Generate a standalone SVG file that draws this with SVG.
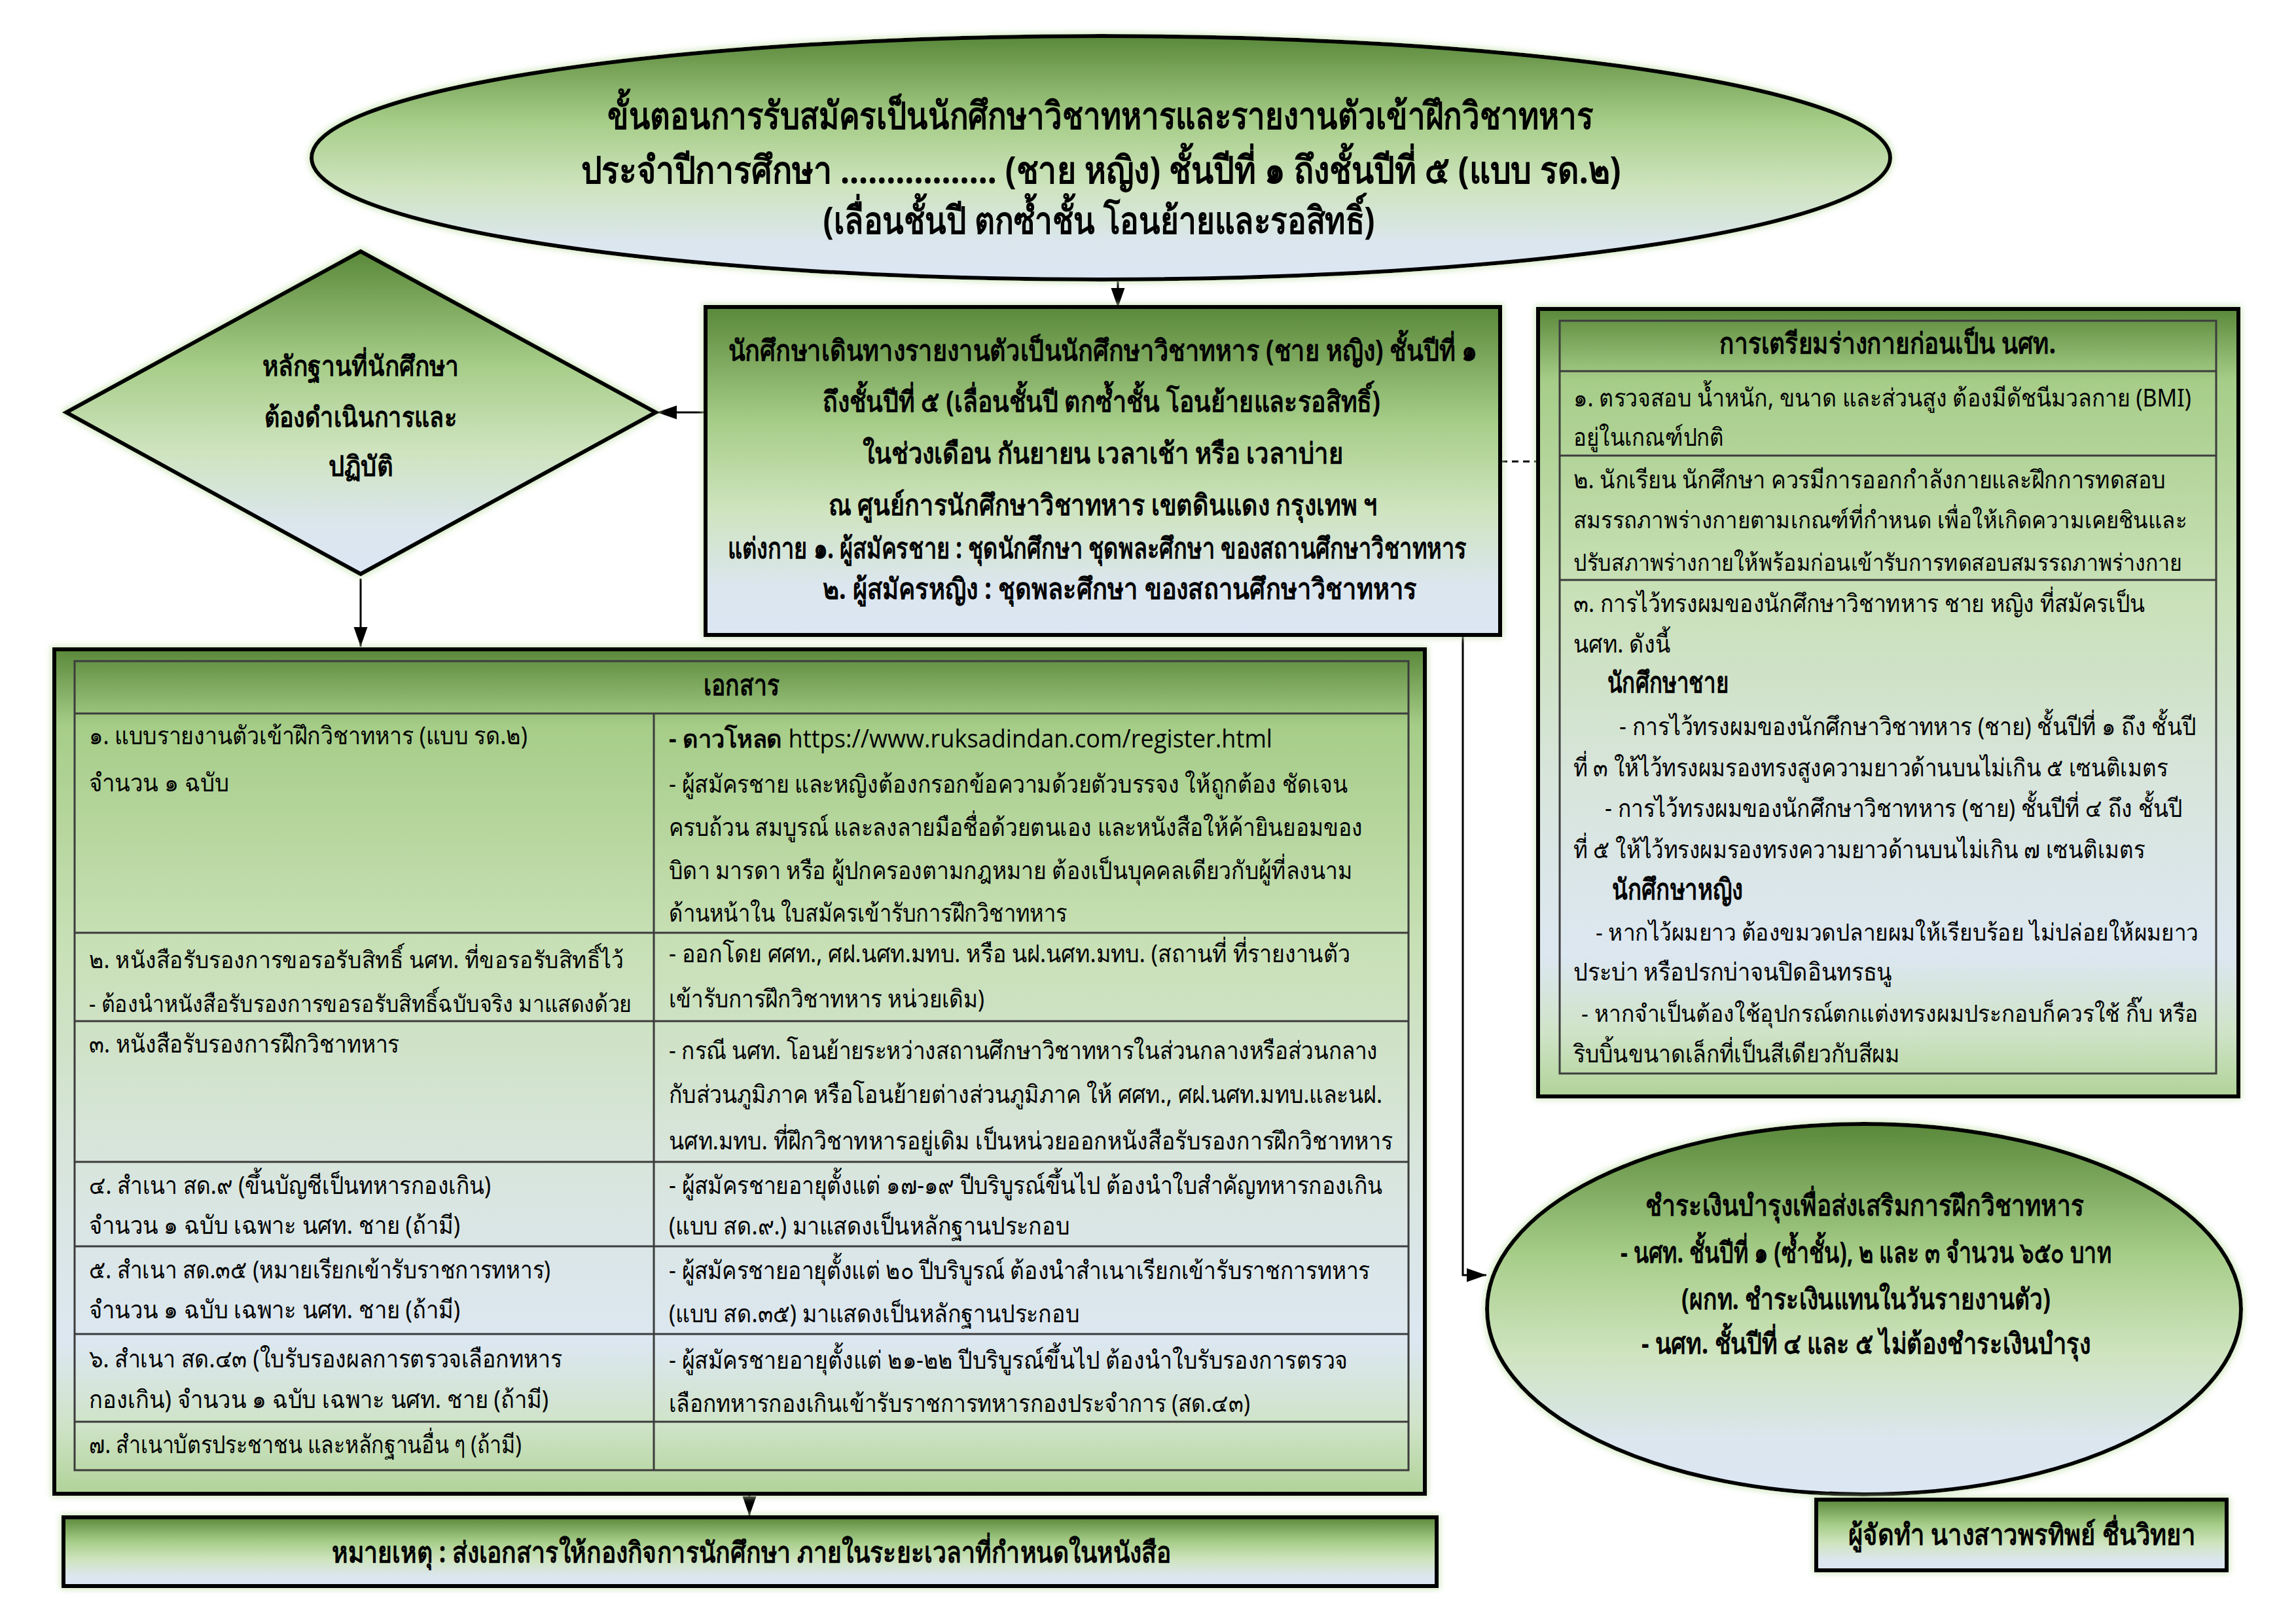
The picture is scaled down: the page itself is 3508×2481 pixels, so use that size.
<svg xmlns="http://www.w3.org/2000/svg" width="3508" height="2481" viewBox="0 0 3508 2481">
<defs>
<linearGradient id="gStd" x1="0" y1="0" x2="0" y2="1">
<stop offset="0" stop-color="#5a883a"/>
<stop offset="0.35" stop-color="#a6cd88"/>
<stop offset="0.62" stop-color="#cfe4bf"/>
<stop offset="0.85" stop-color="#dbe6ee"/>
<stop offset="1" stop-color="#dce6f4"/>
</linearGradient>
<linearGradient id="gTall" x1="0" y1="0" x2="0" y2="1">
<stop offset="0" stop-color="#5a883a"/>
<stop offset="0.09" stop-color="#a6cd88"/>
<stop offset="0.35" stop-color="#c8e0b6"/>
<stop offset="0.6" stop-color="#d8e5dc"/>
<stop offset="0.82" stop-color="#dce7f1"/>
<stop offset="0.92" stop-color="#cfe3c7"/>
<stop offset="1" stop-color="#b0d398"/>
</linearGradient>
<filter id="glow" x="-10%" y="-10%" width="120%" height="120%">
<feMorphology in="SourceAlpha" operator="dilate" radius="2" result="d"/>
<feGaussianBlur in="d" stdDeviation="5" result="b"/>
<feFlood flood-color="#c3e0ab" flood-opacity="0.75"/>
<feComposite in2="b" operator="in" result="g"/>
<feMerge><feMergeNode in="g"/><feMergeNode in="SourceGraphic"/></feMerge>
</filter>
<marker id="ahb" viewBox="0 0 10 10" refX="10" refY="5" markerWidth="30" markerHeight="30" markerUnits="userSpaceOnUse" orient="auto">
<path d="M0,1.5 L10,5 L0,8.5 z" fill="#000"/>
</marker>
</defs>
<style>
.shape{stroke:#000;stroke-width:6;filter:url(#glow)}
.std{fill:url(#gStd)}
.tall{fill:url(#gTall)}
.grid{fill:none;stroke:#3c3c3c;stroke-width:3}
.conn{fill:none;stroke:#000;stroke-width:3}
.dash{fill:none;stroke:#000;stroke-width:3;stroke-dasharray:10 7}
text{font-family:'Noto Sans','DejaVu Sans',sans-serif;fill:#000}
.b{font-weight:bold;font-size:44px}
.d{font-weight:bold;font-size:42px}
.ttl{font-weight:bold;font-size:58px;text-anchor:middle}
.c{text-anchor:middle}
.r{font-size:38px}
.s{font-size:36px}
</style>
<rect width="3508" height="2481" fill="#fff"/>

<g id="connectors">
<line class="conn" x1="1708" y1="430" x2="1708" y2="470" marker-end="url(#ahb)"/>
<line class="conn" x1="1078" y1="630" x2="1004" y2="630" marker-end="url(#ahb)"/>
<line class="conn" x1="551" y1="884" x2="551" y2="988" marker-end="url(#ahb)"/>
<polyline class="conn" points="2235,972 2235,1948 2271,1948" marker-end="url(#ahb)"/>
<line class="conn" x1="1145" y1="2284" x2="1145" y2="2316" marker-end="url(#ahb)"/>
<line class="dash" x1="2293" y1="705" x2="2349" y2="705"/>
</g>

<g id="title">
<ellipse class="shape std" cx="1682" cy="241" rx="1206" ry="186"/>
<text class="ttl" x="1681" y="197" textLength="1506" lengthAdjust="spacingAndGlyphs">ขั้นตอนการรับสมัครเป็นนักศึกษาวิชาทหารและรายงานตัวเข้าฝึกวิชาทหาร</text>
<text class="ttl" x="1682" y="280" textLength="1589" lengthAdjust="spacingAndGlyphs">ประจำปีการศึกษา ................. (ชาย หญิง) ชั้นปีที่ ๑ ถึงชั้นปีที่ ๕ (แบบ รด.๒)</text>
<text class="ttl" x="1679" y="357" textLength="843" lengthAdjust="spacingAndGlyphs">(เลื่อนชั้นปี ตกซ้ำชั้น โอนย้ายและรอสิทธิ์)</text>
</g>

<g id="evidence">
<polygon class="shape std" points="551,384 1002,630 551,877 101,630"/>
<text class="d c" x="551" y="574" textLength="301" lengthAdjust="spacingAndGlyphs">หลักฐานที่นักศึกษา</text>
<text class="d c" x="551" y="652" textLength="295" lengthAdjust="spacingAndGlyphs">ต้องดำเนินการและ</text>
<text class="d c" x="551" y="727" textLength="99" lengthAdjust="spacingAndGlyphs">ปฏิบัติ</text>
</g>

<g id="report">
<rect class="shape std" x="1078" y="469" width="1214" height="501"/>
<text class="b c" x="1685" y="551" textLength="1145" lengthAdjust="spacingAndGlyphs">นักศึกษาเดินทางรายงานตัวเป็นนักศึกษาวิชาทหาร (ชาย หญิง) ชั้นปีที่ ๑</text>
<text class="b c" x="1683" y="629" textLength="852" lengthAdjust="spacingAndGlyphs">ถึงชั้นปีที่ ๕ (เลื่อนชั้นปี ตกซ้ำชั้น โอนย้ายและรอสิทธิ์)</text>
<text class="b c" x="1685" y="708" textLength="735" lengthAdjust="spacingAndGlyphs">ในช่วงเดือน กันยายน  เวลาเช้า หรือ เวลาบ่าย</text>
<text class="b c" x="1685" y="787" textLength="839" lengthAdjust="spacingAndGlyphs">ณ ศูนย์การนักศึกษาวิชาทหาร เขตดินแดง กรุงเทพ ฯ</text>
<text class="b" x="1112" y="853" textLength="1129" lengthAdjust="spacingAndGlyphs">แต่งกาย  ๑. ผู้สมัครชาย : ชุดนักศึกษา ชุดพละศึกษา ของสถานศึกษาวิชาทหาร</text>
<text class="b" x="1257" y="915" textLength="908" lengthAdjust="spacingAndGlyphs">๒. ผู้สมัครหญิง : ชุดพละศึกษา ของสถานศึกษาวิชาทหาร</text>
</g>

<g id="physical">
<rect class="shape tall" x="2350" y="472" width="1070" height="1203"/>
<rect class="grid" x="2383" y="490" width="1003" height="1150"/>
<line class="grid" x1="2383" y1="567" x2="3386" y2="567"/>
<line class="grid" x1="2383" y1="696" x2="3386" y2="696"/>
<line class="grid" x1="2383" y1="886" x2="3386" y2="886"/>
<text class="b c" x="2884" y="540" textLength="514" lengthAdjust="spacingAndGlyphs">การเตรียมร่างกายก่อนเป็น นศท.</text>
<text class="r" x="2404" y="621" textLength="944" lengthAdjust="spacingAndGlyphs">๑. ตรวจสอบ น้ำหนัก, ขนาด และส่วนสูง ต้องมีดัชนีมวลกาย (BMI)</text>
<text class="r" x="2404" y="681" textLength="230" lengthAdjust="spacingAndGlyphs">อยู่ในเกณฑ์ปกติ</text>
<text class="r" x="2404" y="746" textLength="905" lengthAdjust="spacingAndGlyphs">๒. นักเรียน นักศึกษา ควรมีการออกกำลังกายและฝึกการทดสอบ</text>
<text class="s" x="2404" y="807" textLength="937" lengthAdjust="spacingAndGlyphs">สมรรถภาพร่างกายตามเกณฑ์ที่กำหนด เพื่อให้เกิดความเคยชินและ</text>
<text class="s" x="2404" y="872" textLength="930" lengthAdjust="spacingAndGlyphs">ปรับสภาพร่างกายให้พร้อมก่อนเข้ารับการทดสอบสมรรถภาพร่างกาย</text>
<text class="r" x="2404" y="935" textLength="873" lengthAdjust="spacingAndGlyphs">๓. การไว้ทรงผมของนักศึกษาวิชาทหาร ชาย หญิง ที่สมัครเป็น</text>
<text class="r" x="2404" y="997" textLength="148" lengthAdjust="spacingAndGlyphs">นศท. ดังนี้</text>
<text class="b" x="2456" y="1058" textLength="185" lengthAdjust="spacingAndGlyphs">นักศึกษาชาย</text>
<text class="r" x="2474" y="1123" textLength="881" lengthAdjust="spacingAndGlyphs">- การไว้ทรงผมของนักศึกษาวิชาทหาร (ชาย) ชั้นปีที่ ๑ ถึง ชั้นปี</text>
<text class="r" x="2404" y="1186" textLength="908" lengthAdjust="spacingAndGlyphs">ที่ ๓ ให้ไว้ทรงผมรองทรงสูงความยาวด้านบนไม่เกิน ๕ เซนติเมตร</text>
<text class="r" x="2452" y="1248" textLength="882" lengthAdjust="spacingAndGlyphs">- การไว้ทรงผมของนักศึกษาวิชาทหาร (ชาย) ชั้นปีที่ ๔ ถึง ชั้นปี</text>
<text class="r" x="2404" y="1311" textLength="873" lengthAdjust="spacingAndGlyphs">ที่ ๕ ให้ไว้ทรงผมรองทรงความยาวด้านบนไม่เกิน ๗ เซนติเมตร</text>
<text class="b" x="2463" y="1374" textLength="200" lengthAdjust="spacingAndGlyphs">นักศึกษาหญิง</text>
<text class="s" x="2438" y="1437" textLength="921" lengthAdjust="spacingAndGlyphs">- หากไว้ผมยาว ต้องขมวดปลายผมให้เรียบร้อย ไม่ปล่อยให้ผมยาว</text>
<text class="r" x="2404" y="1498" textLength="487" lengthAdjust="spacingAndGlyphs">ประบ่า หรือปรกบ่าจนปิดอินทรธนู</text>
<text class="s" x="2416" y="1561" textLength="943" lengthAdjust="spacingAndGlyphs">- หากจำเป็นต้องใช้อุปกรณ์ตกแต่งทรงผมประกอบก็ควรใช้ กิ๊บ หรือ</text>
<text class="r" x="2404" y="1623" textLength="498" lengthAdjust="spacingAndGlyphs">ริบบิ้นขนาดเล็กที่เป็นสีเดียวกับสีผม</text>
</g>

<g id="documents">
<rect class="shape tall" x="83" y="992" width="2094" height="1290"/>
<rect class="grid" x="114" y="1010" width="2038" height="1236"/>
<line class="grid" x1="114" y1="1090" x2="2152" y2="1090"/>
<line class="grid" x1="114" y1="1425" x2="2152" y2="1425"/>
<line class="grid" x1="114" y1="1560" x2="2152" y2="1560"/>
<line class="grid" x1="114" y1="1775" x2="2152" y2="1775"/>
<line class="grid" x1="114" y1="1904" x2="2152" y2="1904"/>
<line class="grid" x1="114" y1="2038" x2="2152" y2="2038"/>
<line class="grid" x1="114" y1="2172" x2="2152" y2="2172"/>
<line class="grid" x1="999" y1="1090" x2="999" y2="2246"/>
<text class="b c" x="1133" y="1062" textLength="116" lengthAdjust="spacingAndGlyphs">เอกสาร</text>
<text class="r" x="136" y="1137" textLength="670" lengthAdjust="spacingAndGlyphs">๑. แบบรายงานตัวเข้าฝึกวิชาทหาร (แบบ รด.๒)</text>
<text class="r" x="136" y="1209" textLength="214" lengthAdjust="spacingAndGlyphs">จำนวน ๑ ฉบับ</text>
<text class="s" x="136" y="1479" textLength="817" lengthAdjust="spacingAndGlyphs">๒. หนังสือรับรองการขอรอรับสิทธิ์ นศท. ที่ขอรอรับสิทธิ์ไว้</text>
<text class="s" x="136" y="1546" textLength="829" lengthAdjust="spacingAndGlyphs">-  ต้องนำหนังสือรับรองการขอรอรับสิทธิ์ฉบับจริง มาแสดงด้วย</text>
<text class="r" x="136" y="1608" textLength="474" lengthAdjust="spacingAndGlyphs">๓. หนังสือรับรองการฝึกวิชาทหาร</text>
<text class="r" x="136" y="1824" textLength="614" lengthAdjust="spacingAndGlyphs">๔. สำเนา สด.๙ (ขึ้นบัญชีเป็นทหารกองเกิน)</text>
<text class="r" x="136" y="1885" textLength="567" lengthAdjust="spacingAndGlyphs">จำนวน ๑ ฉบับ เฉพาะ นศท. ชาย (ถ้ามี)</text>
<text class="r" x="136" y="1953" textLength="705" lengthAdjust="spacingAndGlyphs">๕. สำเนา สด.๓๕ (หมายเรียกเข้ารับราชการทหาร)</text>
<text class="r" x="136" y="2014" textLength="567" lengthAdjust="spacingAndGlyphs">จำนวน ๑ ฉบับ เฉพาะ นศท. ชาย (ถ้ามี)</text>
<text class="r" x="136" y="2089" textLength="723" lengthAdjust="spacingAndGlyphs">๖. สำเนา สด.๔๓ (ใบรับรองผลการตรวจเลือกทหาร</text>
<text class="r" x="136" y="2151" textLength="702" lengthAdjust="spacingAndGlyphs">กองเกิน) จำนวน ๑ ฉบับ เฉพาะ นศท. ชาย (ถ้ามี)</text>
<text class="r" x="136" y="2220" textLength="661" lengthAdjust="spacingAndGlyphs">๗. สำเนาบัตรประชาชน และหลักฐานอื่น ๆ (ถ้ามี)</text>
<text class="r" x="1022" y="1142" textLength="922" lengthAdjust="spacingAndGlyphs"><tspan font-weight="bold">- ดาวโหลด </tspan><tspan font-family="'Open Sans','Liberation Sans',sans-serif">https://www.ruksadindan.com/register.html</tspan></text>
<text class="r" x="1022" y="1211" textLength="1037" lengthAdjust="spacingAndGlyphs">-  ผู้สมัครชาย และหญิงต้องกรอกข้อความด้วยตัวบรรจง ให้ถูกต้อง ชัดเจน</text>
<text class="r" x="1022" y="1277" textLength="1060" lengthAdjust="spacingAndGlyphs">ครบถ้วน สมบูรณ์ และลงลายมือชื่อด้วยตนเอง และหนังสือให้ค้ายินยอมของ</text>
<text class="r" x="1022" y="1343" textLength="1044" lengthAdjust="spacingAndGlyphs">บิดา มารดา หรือ ผู้ปกครองตามกฎหมาย ต้องเป็นบุคคลเดียวกับผู้ที่ลงนาม</text>
<text class="r" x="1022" y="1408" textLength="608" lengthAdjust="spacingAndGlyphs">ด้านหน้าใน ใบสมัครเข้ารับการฝึกวิชาทหาร</text>
<text class="r" x="1022" y="1470" textLength="1041" lengthAdjust="spacingAndGlyphs">- ออกโดย ศศท., ศฝ.นศท.มทบ. หรือ นฝ.นศท.มทบ. (สถานที่ ที่รายงานตัว</text>
<text class="r" x="1022" y="1539" textLength="482" lengthAdjust="spacingAndGlyphs">เข้ารับการฝึกวิชาทหาร หน่วยเดิม)</text>
<text class="r" x="1022" y="1618" textLength="1083" lengthAdjust="spacingAndGlyphs">- กรณี นศท. โอนย้ายระหว่างสถานศึกษาวิชาทหารในส่วนกลางหรือส่วนกลาง</text>
<text class="r" x="1022" y="1685" textLength="1090" lengthAdjust="spacingAndGlyphs">กับส่วนภูมิภาค หรือโอนย้ายต่างส่วนภูมิภาค ให้ ศศท., ศฝ.นศท.มทบ.และนฝ.</text>
<text class="r" x="1022" y="1756" textLength="1106" lengthAdjust="spacingAndGlyphs">นศท.มทบ. ที่ฝึกวิชาทหารอยู่เดิม เป็นหน่วยออกหนังสือรับรองการฝึกวิชาทหาร</text>
<text class="r" x="1022" y="1824" textLength="1090" lengthAdjust="spacingAndGlyphs">- ผู้สมัครชายอายุตั้งแต่ ๑๗-๑๙ ปีบริบูรณ์ขึ้นไป ต้องนำใบสำคัญทหารกองเกิน</text>
<text class="r" x="1022" y="1886" textLength="612" lengthAdjust="spacingAndGlyphs">(แบบ สด.๙.) มาแสดงเป็นหลักฐานประกอบ</text>
<text class="r" x="1022" y="1954" textLength="1071" lengthAdjust="spacingAndGlyphs">- ผู้สมัครชายอายุตั้งแต่ ๒๐ ปีบริบูรณ์ ต้องนำสำเนาเรียกเข้ารับราชการทหาร</text>
<text class="r" x="1022" y="2020" textLength="627" lengthAdjust="spacingAndGlyphs">(แบบ สด.๓๕) มาแสดงเป็นหลักฐานประกอบ</text>
<text class="r" x="1022" y="2091" textLength="1037" lengthAdjust="spacingAndGlyphs">- ผู้สมัครชายอายุตั้งแต่ ๒๑-๒๒ ปีบริบูรณ์ขึ้นไป ต้องนำใบรับรองการตรวจ</text>
<text class="r" x="1022" y="2157" textLength="888" lengthAdjust="spacingAndGlyphs">เลือกทหารกองเกินเข้ารับราชการทหารกองประจำการ (สด.๔๓)</text>
</g>

<g id="payment">
<ellipse class="shape std" cx="2848" cy="2000" rx="576" ry="283"/>
<text class="b c" x="2849" y="1857" textLength="670" lengthAdjust="spacingAndGlyphs">ชำระเงินบำรุงเพื่อส่งเสริมการฝึกวิชาทหาร</text>
<text class="b c" x="2851" y="1929" textLength="750" lengthAdjust="spacingAndGlyphs">- นศท. ชั้นปีที่ ๑ (ซ้ำชั้น), ๒ และ ๓ จำนวน ๖๕๐ บาท</text>
<text class="b c" x="2851" y="2000" textLength="564" lengthAdjust="spacingAndGlyphs">(ผกท. ชำระเงินแทนในวันรายงานตัว)</text>
<text class="b c" x="2851" y="2068" textLength="686" lengthAdjust="spacingAndGlyphs">- นศท. ชั้นปีที่ ๔ และ ๕ ไม่ต้องชำระเงินบำรุง</text>
</g>

<g id="note">
<rect class="shape std" x="97" y="2318" width="2098" height="105"/>
<text class="b c" x="1148" y="2387" textLength="1282" lengthAdjust="spacingAndGlyphs">หมายเหตุ : ส่งเอกสารให้กองกิจการนักศึกษา ภายในระยะเวลาที่กำหนดในหนังสือ</text>
</g>

<g id="author">
<rect class="shape std" x="2775" y="2291" width="627" height="108"/>
<text class="b c" x="3089" y="2360" textLength="531" lengthAdjust="spacingAndGlyphs">ผู้จัดทำ นางสาวพรทิพย์ ชื่นวิทยา</text>
</g>
</svg>
